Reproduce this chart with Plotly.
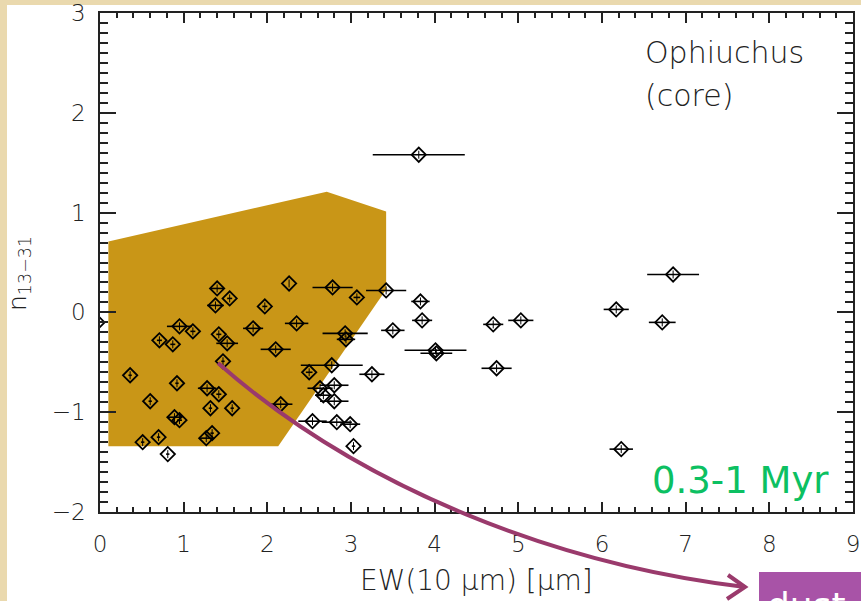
import plotly.graph_objects as go

# ---------------- data ----------------
ew = [1.40, 1.55, 1.38, 2.26, 2.78, 3.07, 3.42, 1.97, 0.95, 1.11,
      0.71, 0.87, 1.42, 1.52, 1.83, 2.35, 2.10, 2.93, 2.94, 1.47,
      0.36, 0.92, 2.77, 2.50, 3.25, 1.28, 1.42, 2.63, 2.80, 2.67,
      2.80, 0.60, 1.32, 1.58, 2.16, 0.89, 0.95, 2.54, 2.83, 2.99,
      1.34, 1.27, 0.70, 0.51, 3.03, 0.81, 3.81, 3.83, 3.85, 4.70,
      3.50, 4.01, 4.02, 4.74, 5.03, 6.17, 6.85, 6.72, 6.23, -0.03]
n1331 = [0.24, 0.14, 0.07, 0.29, 0.25, 0.15, 0.22, 0.06, -0.14, -0.19,
         -0.28, -0.32, -0.22, -0.31, -0.16, -0.11, -0.37, -0.21, -0.27, -0.49,
         -0.63, -0.71, -0.53, -0.60, -0.62, -0.76, -0.82, -0.76, -0.73, -0.83,
         -0.89, -0.89, -0.96, -0.96, -0.92, -1.05, -1.08, -1.09, -1.10, -1.12,
         -1.21, -1.26, -1.25, -1.30, -1.34, -1.42, 1.58, 0.11, -0.08, -0.12,
         -0.18, -0.38, -0.41, -0.56, -0.08, 0.03, 0.38, -0.10, -1.37, -0.10]
ew_err = [0.08, 0.03, 0.10, 0.00, 0.24, 0.04, 0.24, 0.03, 0.15, 0.03,
          0.03, 0.03, 0.03, 0.13, 0.12, 0.14, 0.18, 0.27, 0.11, 0.02,
          0.02, 0.02, 0.37, 0.04, 0.15, 0.11, 0.03, 0.15, 0.17, 0.10,
          0.17, 0.02, 0.02, 0.02, 0.14, 0.09, 0.03, 0.17, 0.18, 0.12,
          0.02, 0.08, 0.02, 0.02, 0.02, 0.02, 0.55, 0.11, 0.12, 0.12,
          0.14, 0.37, 0.19, 0.18, 0.15, 0.15, 0.31, 0.16, 0.14, 0.00]
n_err = [0.04] * len(ew)

poly_x = [0.10, 2.71, 3.42, 3.42, 2.13, 0.10]
poly_y = [0.71, 1.21, 1.01, 0.23, -1.34, -1.34]

x_ticks = [0, 1, 2, 3, 4, 5, 6, 7, 8, 9]
y_ticks = [-2, -1, 0, 1, 2, 3]
x_range = [0, 9]
y_range = [-2, 3]

# ---------------- layout geometry ----------------
W, H = 861, 601
L, R, T, B = 100, 8, 13, 89
PW, PH = W - L - R, H - T - B

def px2paper(px, py):
    return (px - L) / PW, (H - B - py) / PH

# arrow sweep: cubic Bezier (start, control1, control2, tip) in page pixels
arrow_bez_px = [(218, 363), (362, 490), (560, 565), (745, 587)]

def bezier_path(pts):
    pp = [px2paper(*p) for p in pts]
    return "M %.5f,%.5f C %.5f,%.5f %.5f,%.5f %.5f,%.5f" % (pp[0] + pp[1] + pp[2] + pp[3])

FONT = "DejaVu Sans"
INK = "#222222"
GOLD = "#C99617"
PARCH = "#EAD9AE"
ARROW = "#9A3A6C"
LIGHT = 200

fig = go.Figure()

fig.add_trace(go.Scatter(
    x=poly_x, y=poly_y, fill="toself", fillcolor=GOLD,
    mode="lines", line=dict(width=0, color=GOLD), hoverinfo="skip",
    showlegend=False))

fig.add_trace(go.Scatter(
    x=ew, y=n1331, mode="markers",
    marker=dict(symbol="diamond-open", size=11, color="black",
                line=dict(width=1.8, color="black")),
    error_x=dict(type="data", array=ew_err, visible=True, color="black",
                 thickness=1.6, width=0),
    error_y=dict(type="data", array=n_err, visible=True, color="black",
                 thickness=1, width=0),
    showlegend=False))

axis_common = dict(
    showgrid=False, zeroline=False, showline=True, linecolor=INK,
    linewidth=1.5, mirror="ticks", ticks="inside", tickcolor=INK,
    tickwidth=1.5, tickfont=dict(family=FONT, size=23, color=INK, weight=LIGHT),
    automargin=False)

fig.update_xaxes(range=x_range, tickvals=x_ticks,
                 ticktext=[str(v) for v in x_ticks], ticklen=10,
                 minor=dict(dtick=0.2, ticklen=5, ticks="inside",
                            tickcolor=INK, tickwidth=1.5, showgrid=False),
                 ticklabelstandoff=11, **axis_common)
fig.update_yaxes(range=y_range, tickvals=y_ticks,
                 ticktext=[("\u2212" + str(-v)) if v < 0 else str(v) for v in y_ticks],
                 ticklen=16,
                 minor=dict(dtick=0.1, ticklen=8, ticks="inside",
                            tickcolor=INK, tickwidth=1.5, showgrid=False),
                 ticklabelstandoff=8, **axis_common)

shapes = []
wx0, wy0 = px2paper(7, 601)
wx1, wy1 = px2paper(861, 5)
shapes.append(dict(type="rect", xref="paper", yref="paper", x0=wx0, y0=wy0,
                   x1=wx1, y1=wy1, fillcolor="white", line=dict(width=0),
                   layer="below"))
bx0, by0 = px2paper(759, 601)
bx1, by1 = px2paper(861, 572)
shapes.append(dict(type="rect", xref="paper", yref="paper", x0=bx0, y0=by0,
                   x1=bx1, y1=by1, fillcolor="#A853A7", line=dict(width=0),
                   layer="above"))
shapes.append(dict(type="path", xref="paper", yref="paper",
                   path=bezier_path(arrow_bez_px),
                   line=dict(color=ARROW, width=4), layer="above"))
ha, hb, hc = px2paper(728, 575), px2paper(745, 587), px2paper(727, 599)
shapes.append(dict(type="path", xref="paper", yref="paper",
                   path="M %.5f,%.5f L %.5f,%.5f L %.5f,%.5f" % (ha + hb + hc),
                   line=dict(color=ARROW, width=4), layer="above"))

annotations = []
ox, oy = px2paper(643, 53)
annotations.append(dict(xref="paper", yref="paper", x=ox, y=oy, text="Ophiuchus",
                        showarrow=False, xanchor="left", yanchor="middle",
                        font=dict(family=FONT, size=30, color=INK, weight=LIGHT)))
cx, cy = px2paper(643, 95)
annotations.append(dict(xref="paper", yref="paper", x=cx, y=cy, text="(core)",
                        showarrow=False, xanchor="left", yanchor="middle",
                        font=dict(family=FONT, size=30, color=INK, weight=LIGHT)))
gx, gy = px2paper(831, 480)
annotations.append(dict(xref="paper", yref="paper", x=gx, y=gy, text="0.3-1 Myr",
                        showarrow=False, xanchor="right", yanchor="middle",
                        font=dict(family=FONT, size=37, color="#0CC062")))
tx, ty = px2paper(476, 580)
annotations.append(dict(xref="paper", yref="paper", x=tx, y=ty,
                        text="EW(10 \u03bcm) [\u03bcm]",
                        showarrow=False, xanchor="center", yanchor="middle",
                        font=dict(family=FONT, size=28, color=INK, weight=LIGHT)))
yx, yy = px2paper(19, 274)
annotations.append(dict(xref="paper", yref="paper", x=yx, y=yy,
                        text="n<sub>13\u221231</sub>", textangle=-90,
                        showarrow=False, xanchor="center", yanchor="middle",
                        font=dict(family=FONT, size=25, color=INK, weight=LIGHT)))
dx, dy = px2paper(765, 605)
annotations.append(dict(xref="paper", yref="paper", x=dx, y=dy, text="dust",
                        showarrow=False, xanchor="left", yanchor="middle",
                        font=dict(family=FONT, size=36, color="white")))

fig.update_layout(
    width=W, height=H,
    margin=dict(l=L, r=R, t=T, b=B, pad=0),
    paper_bgcolor=PARCH, plot_bgcolor="white",
    shapes=shapes, annotations=annotations, showlegend=False)

fig.write_html("out.html")
